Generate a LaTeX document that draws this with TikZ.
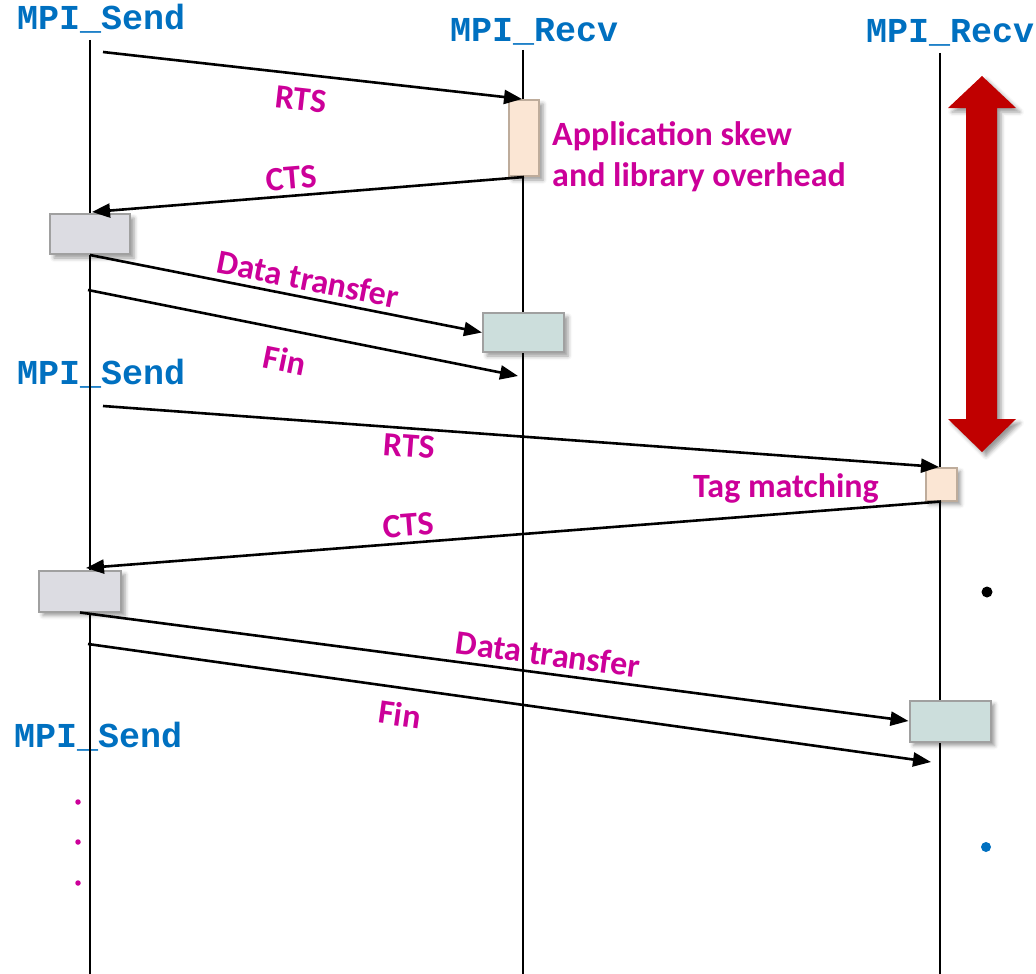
\documentclass[tikz,border=0pt]{standalone}
\usepackage{fontspec}
\setmainfont{Carlito}
\newfontfamily\callfont{Liberation Mono}
\usetikzlibrary{arrows.meta,shadows.blur}

\definecolor{callblue}{RGB}{0,112,192}
\definecolor{notemag}{RGB}{204,0,153}
\definecolor{waitfill}{RGB}{220,220,226}
\definecolor{datafill}{RGB}{204,222,220}
\definecolor{skewfill}{RGB}{251,230,212}
\definecolor{boxedge}{RGB}{160,160,160}
\definecolor{skewedge}{RGB}{190,172,155}
\definecolor{spanred}{RGB}{192,0,0}

\tikzset{
  call/.style={font=\callfont\bfseries\fontsize{35}{40}\selectfont, text=callblue, inner sep=0pt, anchor=base west},
  note/.style={font=\bfseries\fontsize{34}{41}\selectfont, text=notemag, inner sep=0pt},
  lifeline/.style={line width=2.6pt, black},
  msg/.style={line width=2.6pt, black, -{Triangle[length=18pt,width=14pt]}},
  shade/.style={blur shadow={shadow xshift=4pt, shadow yshift=-4pt, shadow blur radius=4pt, shadow opacity=40}},
  waitbox/.style={draw=boxedge, fill=waitfill, line width=2pt, inner sep=0pt, shade},
  databox/.style={draw=boxedge, fill=datafill, line width=2pt, inner sep=0pt, shade},
  skewbox/.style={draw=skewedge, fill=skewfill, line width=2pt, inner sep=0pt, shade},
  dot/.style={inner sep=0pt, circle}
}

\begin{document}
\begin{tikzpicture}[x=1pt,y=-1pt]
\useasboundingbox (0,0) rectangle (1036,974);

% process headers
\node[call] (send1) at (17,30) {MPI\_Send};
\node[call] (recv1) at (450,42) {MPI\_Recv};
\node[call] (recv2) at (866,43) {MPI\_Recv};
\node[call] (send2) at (17,384) {MPI\_Send};
\node[call] (send3) at (14,747) {MPI\_Send};

% lifelines
\coordinate (l0top) at (90,40);   \coordinate (l0bot) at (90,974);
\coordinate (l1top) at (523,50);  \coordinate (l1bot) at (523,974);
\coordinate (l2top) at (940,53);  \coordinate (l2bot) at (940,974);
\draw[lifeline] (l0top) -- (l0bot);
\draw[lifeline] (l1top) -- (l1bot);
\draw[lifeline] (l2top) -- (l2bot);

% activity boxes
\node[skewbox, minimum width=30pt, minimum height=76pt] (skew1) at (524,138) {};
\node[waitbox, minimum width=80pt, minimum height=40pt] (wait1) at (90,234) {};
\node[databox, minimum width=81pt, minimum height=39pt] (data1) at (523.5,332.5) {};
\node[skewbox, minimum width=31pt, minimum height=33pt] (skew2) at (941,484) {};
\node[waitbox, minimum width=82pt, minimum height=41pt] (wait2) at (80,591) {};
\node[databox, minimum width=81pt, minimum height=41pt] (data2) at (950,721) {};

% message end points
\coordinate (rts1a) at (103,52);
\coordinate (rts1b) at (522,99);
\coordinate (cts1b) at (92,212);
\coordinate (fin1a) at (88,290);
\coordinate (fin1b) at (518,376);
\coordinate (rts2a) at (103,406);
\coordinate (rts2b) at (939,467);
\coordinate (cts2b) at (86,568);
\coordinate (fin2a) at (88,644);
\coordinate (fin2b) at (931,762);

% first exchange
\draw[msg] (rts1a) -- (rts1b);
\draw[msg] (skew1.south) -- (cts1b);
\draw[msg] (wait1.south) -- (data1.west);
\draw[msg] (fin1a) -- (fin1b);

% second exchange
\draw[msg] (rts2a) -- (rts2b);
\draw[msg] (skew2.south) -- (cts2b);
\draw[msg] (wait2.south) -- (data2.west);
\draw[msg] (fin2a) -- (fin2b);

% message labels
\node[note, rotate=-6.4] (lrts1) at (301,99) {RTS};
\node[note, rotate=4.7] (lcts1) at (291,178) {CTS};
\node[note, rotate=-11.2] (ldata1) at (308,279) {Data transfer};
\node[note, rotate=-11.4] (lfin1) at (285,360) {Fin};
\node[note, rotate=-4.25] (lrts2) at (409,446) {RTS};
\node[note, rotate=4.6] (lcts2) at (408,525) {CTS};
\node[note, rotate=-7.6] (ldata2) at (548,654) {Data transfer};
\node[note, rotate=-8] (lfin2) at (400,714) {Fin};

\node[note, anchor=base west] (skewa) at (552,145) {Application skew};
\node[note, anchor=base west] (skewb) at (552,186) {and library overhead};
\node[note, anchor=base west] (tagm) at (693,497) {Tag matching};

% span marker beside the second receiver
\fill[spanred, shade] (982,76) -- (1016,108) -- (997,108) -- (997,419) -- (1016,419)
  -- (982,452) -- (948,419) -- (966,419) -- (966,108) -- (948,108) -- cycle;

% stray bullets and continuation dots
\node[dot, fill=black, minimum size=11pt] (b1) at (987,592) {};
\node[dot, fill=callblue, minimum size=10pt] (b2) at (986,847) {};
\node[dot, fill=notemag, minimum size=5.5pt] (c1) at (78,802) {};
\node[dot, fill=notemag, minimum size=5.5pt] (c2) at (78,842) {};
\node[dot, fill=notemag, minimum size=5.5pt] (c3) at (78,883) {};
\end{tikzpicture}
\end{document}
